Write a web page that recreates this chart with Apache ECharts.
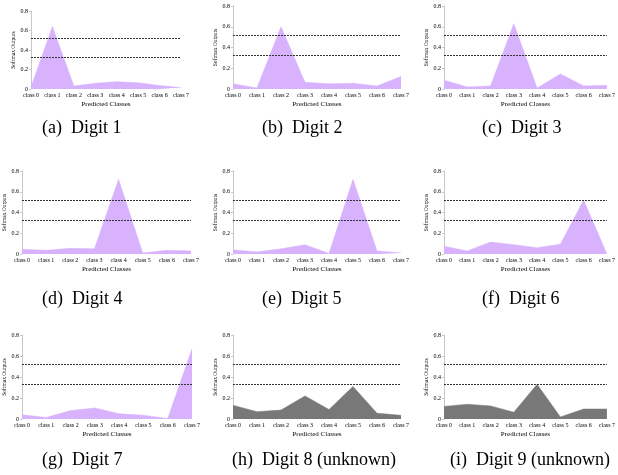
<!DOCTYPE html>
<html>
<head>
<meta charset="utf-8">
<script src="https://cdn.jsdelivr.net/npm/echarts@6/dist/echarts.min.js"></script>
<style>
html,body{margin:0;padding:0;background:#fff;}
#chart{width:618px;height:475px;}
</style>
</head>
<body>
<div id="chart"></div>
<script>
const classes = ['class 0','class 1','class 2','class 3','class 4','class 5','class 6','class 7'];
const yTicks = [0, 0.2, 0.4, 0.6, 0.8];
const thresholds = [0.52, 0.33];

const digit1 = [0.02, 0.64, 0.03, 0.06, 0.075, 0.065, 0.035, 0.015];
const digit2 = [0.05, 0.01, 0.60, 0.065, 0.05, 0.055, 0.03, 0.12];
const digit3 = [0.085, 0.02, 0.03, 0.63, 0.01, 0.145, 0.03, 0.035];
const digit4 = [0.045, 0.035, 0.055, 0.05, 0.72, 0.01, 0.035, 0.03];
const digit5 = [0.04, 0.02, 0.05, 0.09, 0.005, 0.72, 0.03, 0.01];
const digit6 = [0.075, 0.03, 0.115, 0.09, 0.06, 0.095, 0.52, 0.0];
const digit7 = [0.04, 0.015, 0.08, 0.105, 0.05, 0.035, 0.005, 0.67];
const digit8 = [0.13, 0.07, 0.085, 0.22, 0.09, 0.31, 0.055, 0.035];
const digit9 = [0.12, 0.14, 0.125, 0.065, 0.33, 0.02, 0.095, 0.095];

const captions = ['(a)  Digit 1','(b)  Digit 2','(c)  Digit 3','(d)  Digit 4','(e)  Digit 5','(f)  Digit 6','(g)  Digit 7','(h)  Digit 8 (unknown)','(i)  Digit 9 (unknown)'];

const panelData = [digit1,digit2,digit3,digit4,digit5,digit6,digit7,digit8,digit9];
const panelColors = ['#d8b2fc','#d8b2fc','#d8b2fc','#d8b2fc','#d8b2fc','#d8b2fc','#d8b2fc','#787878','#787878'];

// layout: [leftX, rightX, topY(0.8), bottomY(0)]
const boxes = [
  [31,181,11,89],[233,401,6,89],[444,612,6,89],
  [22,191,171,254],[233,401,171,254],[444,612,171,254],
  [22,192,335,419],[233,401,335,419],[444,612,335,419]
];
const capPos = [[42,129],[262,129],[482,129],[42,300],[262,300],[482,300],[42,461],[232,461],[450,461]];

const W = 618;
const FONT = 'Liberation Serif';
const grids=[], xAxes=[], yAxes=[], series=[], graphics=[];
boxes.forEach((b,i)=>{
  grids.push({left:b[0], width:b[1]-b[0], top:b[2], height:b[3]-b[2], containLabel:false});
  xAxes.push({
    type:'category', gridIndex:i, data:classes, boundaryGap:false,
    axisLine:{show:false}, axisTick:{show:false},
    axisLabel:{fontFamily:FONT, fontSize:6, color:'#000', margin:3, interval:0},
    name:'Predicted Classes', nameLocation:'middle', nameGap:12,
    nameTextStyle:{fontFamily:FONT, fontSize:7, color:'#000'}
  });
  yAxes.push({
    type:'value', gridIndex:i, min:yTicks[0], max:yTicks[yTicks.length-1], interval:0.2,
    axisLine:{show:true, lineStyle:{color:'#c8c8c8', width:1}},
    axisTick:{show:true, length:2, lineStyle:{color:'#c8c8c8'}},
    splitLine:{show:false},
    axisLabel:{fontFamily:FONT, fontSize:6, color:'#000', margin:3},
    name:'Softmax Outputs', nameLocation:'middle', nameGap:11,
    nameTextStyle:{fontFamily:FONT, fontSize:5.5, color:'#000'}
  });
  series.push({
    type:'line', xAxisIndex:i, yAxisIndex:i, data:panelData[i],
    symbol:'none', smooth:false,
    lineStyle:{width:0.5, color:panelColors[i]},
    areaStyle:{color:panelColors[i], opacity:1},
    markLine:{
      silent:true, symbol:['none','none'], label:{show:false},
      lineStyle:{type:[2,1], color:'#333', width:1},
      data: thresholds.map(t=>({yAxis:t}))
    },
    z:2
  });
  graphics.push({
    type:'text', left:capPos[i][0], top:capPos[i][1]-10,
    style:{text:captions[i], font:'18px "Liberation Serif"', fill:'#000'}
  });
});

const chart = echarts.init(document.getElementById('chart'), null, {renderer:'canvas'});
chart.setOption({
  animation:false,
  backgroundColor:'#fff',
  grid:grids, xAxis:xAxes, yAxis:yAxes, series:series,
  graphic:graphics
});
</script>
</body>
</html>
